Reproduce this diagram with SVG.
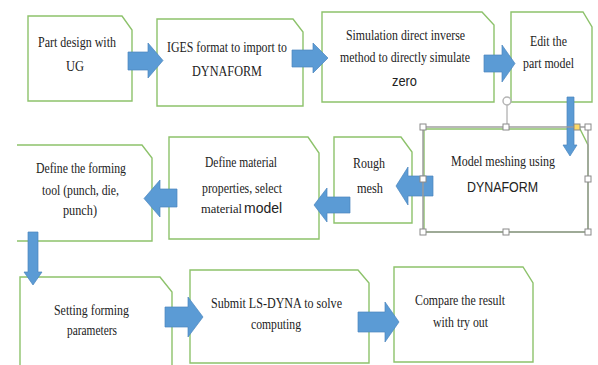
<svg xmlns="http://www.w3.org/2000/svg" width="598" height="365" viewBox="0 0 598 365">
<defs>
<style>
.box{fill:#fff;stroke:#8dc26b;stroke-width:1.4}
.open{fill:none;stroke:#8dc26b;stroke-width:1.4}
.arr{fill:#5b9bd5;stroke:#4a85bd;stroke-width:0.7}
.t{font-family:"Liberation Serif","Times New Roman",serif;font-size:15px;fill:#222}
.s{font-family:"Liberation Sans",Arial,sans-serif;font-size:15px;fill:#222}
.sel{fill:none;stroke:#9a9a9a;stroke-width:1.4}
.h{fill:#fff;stroke:#8a8a8a;stroke-width:1}
</style>
</defs>
<rect width="598" height="365" fill="#fff"/>
<g id="n1"><path class="box" d="M28,16H122L132,30V101H28Z"/>
<text class="t" x="38" y="47" textLength="78" lengthAdjust="spacingAndGlyphs">Part design with</text>
<text class="t" x="66" y="71" textLength="18" lengthAdjust="spacingAndGlyphs">UG</text></g>
<g id="n2"><path class="box" d="M157,19H293L303,32V106H157Z"/>
<text class="t" x="167" y="52" textLength="120" lengthAdjust="spacingAndGlyphs">IGES format to import to</text>
<text class="t" x="192" y="76" textLength="70" lengthAdjust="spacingAndGlyphs">DYNAFORM</text></g>
<g id="n3"><path class="box" d="M322,12H482L494,25V102H322Z"/>
<text class="t" x="346" y="40" textLength="119" lengthAdjust="spacingAndGlyphs">Simulation  direct inverse</text>
<text class="t" x="340" y="62" textLength="130" lengthAdjust="spacingAndGlyphs">method to directly  simulate</text>
<text class="s" x="392" y="86" textLength="25" lengthAdjust="spacingAndGlyphs">zero</text></g>
<g id="n4"><path class="box" d="M511,12H583L592,27V102H511Z"/>
<text class="t" x="530" y="46" textLength="37" lengthAdjust="spacingAndGlyphs">Edit the</text>
<text class="t" x="523" y="68" textLength="51" lengthAdjust="spacingAndGlyphs">part model</text></g>
<g id="n5"><path class="box" d="M424,129H580L588,145V232H424Z"/>
<text class="t" x="451" y="166" textLength="104" lengthAdjust="spacingAndGlyphs">Model meshing using</text>
<text class="s" x="467" y="192" textLength="71" lengthAdjust="spacingAndGlyphs">DYNAFORM</text></g>
<g id="n6"><path class="box" d="M334,137H401L412,152V223H334Z"/>
<text class="t" x="353" y="168" textLength="32" lengthAdjust="spacingAndGlyphs">Rough</text>
<text class="t" x="357" y="193" textLength="26" lengthAdjust="spacingAndGlyphs">mesh</text></g>
<g id="n7"><path class="box" d="M169,137H308L319,153V239H169Z"/>
<text class="t" x="205" y="167" textLength="72" lengthAdjust="spacingAndGlyphs">Define material</text>
<text class="t" x="202" y="193" textLength="80" lengthAdjust="spacingAndGlyphs">properties, select</text>
<text class="t" x="201" y="213" style="font-size:12.5px">material</text>
<text class="s" x="244" y="213" style="font-size:14px">model</text></g>
<g id="n8"><path class="open" d="M17,145H142L152,158V241H17"/>
<text class="t" x="36" y="173" textLength="90" lengthAdjust="spacingAndGlyphs">Define the forming</text>
<text class="t" x="42" y="195" textLength="77" lengthAdjust="spacingAndGlyphs">tool (punch, die,</text>
<text class="t" x="63" y="215" textLength="34" lengthAdjust="spacingAndGlyphs">punch)</text></g>
<g id="n9"><path class="open" d="M20,366V277H160L172,292V366"/>
<text class="t" x="54" y="315" textLength="75" lengthAdjust="spacingAndGlyphs">Setting  forming</text>
<text class="t" x="67" y="335" textLength="50" lengthAdjust="spacingAndGlyphs">parameters</text></g>
<g id="n10"><path class="box" d="M190,270H358L369,283V363H190Z"/>
<text class="t" x="211" y="308" textLength="131" lengthAdjust="spacingAndGlyphs">Submit LS-DYNA to solve</text>
<text class="t" x="251" y="329" textLength="50" lengthAdjust="spacingAndGlyphs">computing</text></g>
<g id="n11"><path class="box" d="M394,267H523L533,283V362H394Z"/>
<text class="t" x="415" y="305" textLength="90" lengthAdjust="spacingAndGlyphs">Compare the result</text>
<text class="t" x="433" y="327" textLength="55" lengthAdjust="spacingAndGlyphs">with try out</text></g>
<g id="connectors">
<polygon class="arr" points="128,52 148,52 148,43 163,60.5 148,78 148,70 128,70"/>
<polygon class="arr" points="292,50 313,50 313,43 328,58 313,73 313,67 292,67"/>
<polygon class="arr" points="484,55 502,55 502,45 515,63.5 502,82 502,72 484,72"/>
<polygon class="arr" points="567,97 574,97 574,145 577,145 570,156 563,145 567,145"/>
<polygon class="arr" points="433,176 408,176 408,167 396,186 408,205 408,196 433,196"/>
<polygon class="arr" points="350,197 327,197 327,188 314,205 327,222 327,213 350,213"/>
<polygon class="arr" points="177,189 160,189 160,180 144,198.5 160,217 160,207 177,207"/>
<polygon class="arr" points="28,232 38,232 38,272 42,272 33,285 24,272 28,272"/>
<polygon class="arr" points="165,307 188,307 188,297 203,317 188,337 188,327 165,327"/>
<polygon class="arr" points="358,312 385,312 385,302 399,322 385,342 385,332 358,332"/>
</g>
<g id="selection">
<line x1="507" y1="105" x2="507" y2="127" stroke="#9a9a9a" stroke-width="1"/>
<circle cx="507" cy="101" r="4" fill="#fff" stroke="#b5b5b5" stroke-width="1.5"/>
<rect class="sel" x="423" y="127" width="165" height="105"/>
<rect class="h" x="420" y="124" width="6" height="6"/>
<rect class="h" x="503" y="124" width="6" height="6"/>
<rect class="h" x="585" y="124" width="6" height="6"/>
<rect class="h" x="420" y="176" width="6" height="6"/>
<rect class="h" x="585" y="176" width="6" height="6"/>
<rect class="h" x="420" y="229" width="6" height="6"/>
<rect class="h" x="503" y="229" width="6" height="6"/>
<rect class="h" x="585" y="229" width="6" height="6"/>
<rect x="574" y="124" width="6" height="6" fill="#ffd966" stroke="#8a8a8a" stroke-width="1"/>
</g>
</svg>
